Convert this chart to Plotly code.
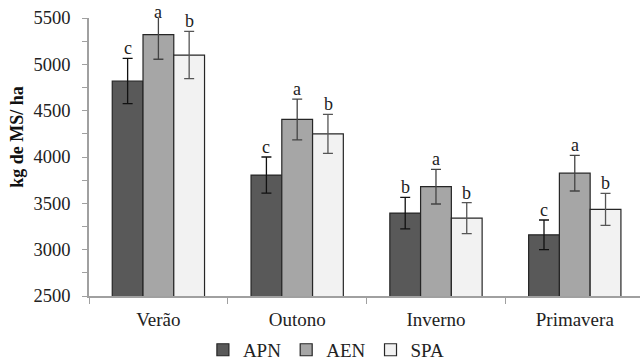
import plotly.graph_objects as go

categories = ["Verão", "Outono", "Inverno", "Primavera"]
series_names = ["APN", "AEN", "SPA"]
apn = [4820, 3805, 3395, 3160]
aen = [5320, 4405, 3680, 3825]
spa = [5100, 4250, 3340, 3435]
apn_err = [245, 195, 170, 160]
aen_err = [265, 220, 187, 192]
spa_err = [255, 210, 167, 172]
apn_let = ["c", "c", "b", "c"]
aen_let = ["a", "a", "a", "a"]
spa_let = ["b", "b", "b", "b"]
y_ticks = [2500, 3000, 3500, 4000, 4500, 5000, 5500]
y_min, y_max = 2500, 5500
y_title = "kg de MS/ ha"

values = [apn, aen, spa]
errs = [apn_err, aen_err, spa_err]
letters = [apn_let, aen_let, spa_let]
fills = ["#595959", "#a6a6a6", "#f2f2f2"]
errcols = ["#111111", "#444444", "#555555"]
FONT = "Liberation Serif"

fig = go.Figure()
for i, name in enumerate(series_names):
    fig.add_trace(go.Bar(
        name=name, x=categories, y=values[i],
        marker=dict(color=fills[i], line=dict(color="#262626", width=1.2)),
        error_y=dict(type="data", array=errs[i], visible=True,
                     color=errcols[i], thickness=1.3, width=5),
        offsetgroup=str(i),
    ))

# letters above error bars (kept inside the chart area at the top)
offsets = [-1, 0, 1]
bw = 0.222
for i in range(3):
    for j, c in enumerate(categories):
        fig.add_annotation(
            x=j + offsets[i] * bw, y=min(values[i][j] + errs[i][j], y_max - 40),
            xref="x", yref="y", text=letters[i][j], showarrow=False,
            yanchor="bottom", yshift=-2,
            font=dict(family=FONT, size=18, color="#222222"))

# y-axis title (placed as in the reference, slightly above centre)
fig.add_annotation(
    x=-0.131, y=0.572, xref="paper", yref="paper", text="<b>" + y_title + "</b>",
    textangle=-90, showarrow=False, xanchor="center", yanchor="middle",
    font=dict(family=FONT, size=18, color="#111111"))

fig.update_layout(
    width=640, height=360,
    margin=dict(l=89, r=0, t=18, b=64),
    paper_bgcolor="white", plot_bgcolor="white",
    barmode="group", bargap=0.335, bargroupgap=0,
    font=dict(family=FONT, size=18, color="#222222"),
    showlegend=True,
    legend=dict(orientation="h", x=0.51, xref="container", xanchor="center",
                y=0.028, yref="container", yanchor="middle",
                font=dict(family=FONT, size=19, color="#222222"),
                itemwidth=30, tracegroupgap=0),
)
fig.update_xaxes(
    type="category", range=[-0.5, 3.47], automargin=False,
    showline=True, linecolor="#a0a0a0", linewidth=1.5,
    ticks="outside", tickson="boundaries", ticklen=6, tickcolor="#a0a0a0",
    ticklabelstandoff=5,
    tickfont=dict(family=FONT, size=19, color="#222222"),
    showgrid=False,
)
fig.update_yaxes(
    range=[y_min, y_max], tickvals=y_ticks, automargin=False,
    showline=True, linecolor="#a0a0a0", linewidth=1.5,
    ticks="outside", ticklen=5, tickcolor="#a0a0a0",
    minor=dict(dtick=250, ticks="outside", ticklen=5, tickcolor="#a0a0a0"),
    ticklabelstandoff=8,
    showgrid=False, zeroline=False,
    tickfont=dict(family=FONT, size=18.5, color="#222222"),
)
fig.write_html("out.html", config={"displayModeBar": False},
               post_script="document.body.style.margin='0';")
